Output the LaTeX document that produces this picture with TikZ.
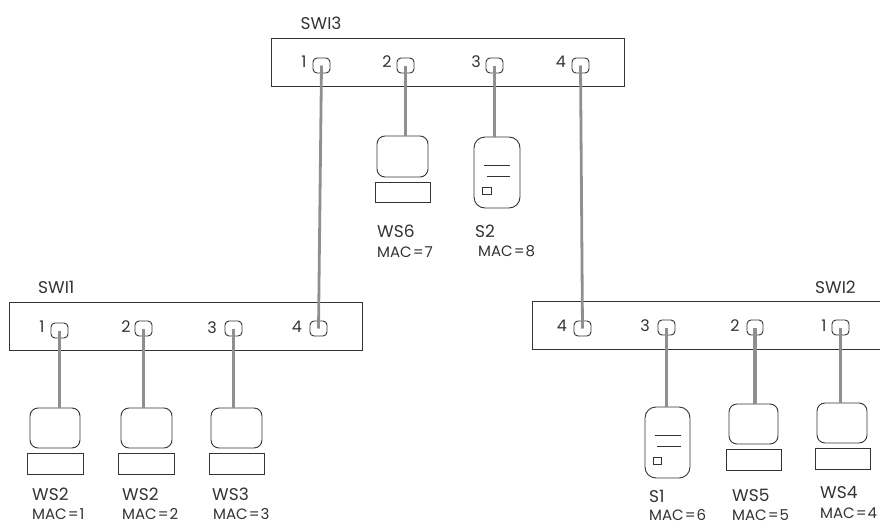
\documentclass[tikz,border=0pt]{standalone}
\usepackage{fontspec}
\setmainfont{Poppins}
\definecolor{ink}{HTML}{333333}
\definecolor{wire}{HTML}{8F8F8F}
\newcommand{\shp}[6]{\node[#1,minimum width={(#5-#3)*1pt},minimum height={(#6-#4)*1pt}] (#2) at ({(#3+#5)/2},{(#4+#6)/2}) {};}
\newcommand{\txt}[5]{\node[#1] (#2) at (#3,#4) {#5};}
\newcommand{\macv}[1]{MAC\kern1pt=\kern1pt#1}
\begin{document}
\begin{tikzpicture}[x=1pt,y=-1pt,
  outline/.style={draw=ink,line width=0.9pt,inner sep=0pt,outer sep=0pt},
  swbox/.style={outline},
  port/.style={outline,rounded corners=4pt},
  monitor/.style={outline,rounded corners=8pt},
  kbd/.style={outline},
  tower/.style={outline,rounded corners=11pt},
  led/.style={outline,line width=0.8pt},
  wirefat/.style={draw=wire,line width=3.8pt},
  wirelink/.style={draw=wire,line width=2.8pt},
  hrule/.style={draw=ink,line width=0.8pt},
  hostlbl/.style={anchor=base west,inner sep=0pt,text=ink,font=\fontsize{17}{18}\selectfont},
  maclbl/.style={anchor=base west,inner sep=0pt,text=ink,font=\fontsize{15}{16}\selectfont},
  numlbl/.style={anchor=center,inner sep=0pt,text=ink,font=\fontsize{16}{16}\selectfont}]
\useasboundingbox (0,0) rectangle (880,522);
\clip (0,0) rectangle (880,522);
% switches
\shp{swbox}{swc}{271.5}{38}{624}{86}
\shp{swbox}{swa}{9.5}{302}{362}{350}
\shp{swbox}{swb}{532}{301}{895}{349}
\txt{hostlbl}{tc}{300.5}{29}{SWI3}
\txt{hostlbl}{ta}{38}{293}{SWI1}
\txt{hostlbl}{tb}{815}{293}{SWI2}
% ports
\shp{port}{c1}{313}{58}{330}{73}
\shp{port}{c2}{397}{58}{414}{73}
\shp{port}{c3}{486}{58}{503}{73}
\shp{port}{c4}{572}{58}{589}{73}
\txt{numlbl}{nc1}{304}{62}{1}
\txt{numlbl}{nc2}{387}{62}{2}
\txt{numlbl}{nc3}{476}{62}{3}
\txt{numlbl}{nc4}{561}{62}{4}
\shp{port}{a1}{51}{323}{68}{338}
\shp{port}{a2}{135}{321}{152}{336}
\shp{port}{a3}{225}{321}{242}{336}
\shp{port}{a4}{310}{321}{327}{336}
\txt{numlbl}{na1}{42}{327}{1}
\txt{numlbl}{na2}{126}{327}{2}
\txt{numlbl}{na3}{212}{328}{3}
\txt{numlbl}{na4}{297}{327}{4}
\shp{port}{b4}{574}{321}{591}{336}
\shp{port}{b3}{658}{320}{675}{335}
\shp{port}{b2}{747}{320}{763}{335}
\shp{port}{b1}{832}{320}{849}{335}
\txt{numlbl}{nb4}{562}{326}{4}
\txt{numlbl}{nb3}{645}{326}{3}
\txt{numlbl}{nb2}{735}{326}{2}
\txt{numlbl}{nb1}{824}{326}{1}
% workstations, top
\shp{monitor}{m6}{377}{136}{428}{177}
\shp{kbd}{k6}{375}{182}{430}{202}
\shp{tower}{s2}{474}{137}{520}{208}
\draw[hrule] (484,165) -- (510,165);
\draw[hrule] (487,176) -- (510,176);
\shp{led}{l2}{482}{187}{491}{194}
\txt{hostlbl}{t6}{377}{237}{WS6}
\txt{maclbl}{q6}{377}{257}{\macv{7}}
\txt{hostlbl}{ts2}{475}{237}{S2}
\txt{maclbl}{q8}{478}{256}{\macv{8}}
% left
\shp{monitor}{m1}{30}{408}{80}{448}
\shp{kbd}{k1}{27}{453}{83}{474}
\shp{monitor}{m2}{121}{408}{172}{448}
\shp{kbd}{k2}{118}{453}{174}{474}
\shp{monitor}{m3}{211}{408}{262}{448}
\shp{kbd}{k3}{209}{453}{264}{474}
\txt{hostlbl}{t1}{32}{500}{WS2}
\txt{hostlbl}{t2}{122}{500}{WS2}
\txt{hostlbl}{t3}{212}{500}{WS3}
\txt{maclbl}{q1}{32}{519.5}{\macv{1}}
\txt{maclbl}{q2}{122}{519.5}{\macv{2}}
\txt{maclbl}{q3}{213}{519.5}{\macv{3}}
% right
\shp{tower}{s1}{645}{407}{690}{478}
\draw[hrule] (655,435) -- (681,435);
\draw[hrule] (657,446) -- (681,446);
\shp{led}{l1}{653}{457}{661}{464}
\shp{monitor}{m5}{729}{404}{778}{444}
\shp{kbd}{k5}{726}{449}{781}{470}
\shp{monitor}{m4}{817}{403}{867}{443}
\shp{kbd}{k4}{815}{448}{870}{469}
\txt{hostlbl}{ts1}{649}{502}{S1}
\txt{hostlbl}{t5}{732}{501}{WS5}
\txt{hostlbl}{t4}{820}{498}{WS4}
\txt{maclbl}{q6b}{649}{520}{\macv{6}}
\txt{maclbl}{q5}{732}{520}{\macv{5}}
\txt{maclbl}{q4}{820}{518}{\macv{4}}
% connectors
\draw[wirelink] (c1.center) -- (a4.center);
\draw[wirelink] (c4.center) -- (b4.center);
\draw[wirefat] (c2.center) -- (c2.center |- m6.north);
\draw[wirefat] (c3.center) -- (c3.center |- s2.north);
\draw[wirefat] (a1.center) -- (a1.center |- m1.north);
\draw[wirefat] (a2.center) -- (a2.center |- m2.north);
\draw[wirefat] (a3.center) -- (a3.center |- m3.north);
\draw[wirefat] (b3.center) -- (b3.center |- s1.north);
\draw[wirefat] (b2.center) -- (b2.center |- m5.north);
\draw[wirefat] (b1.center) -- (b1.center |- m4.north);
\end{tikzpicture}
\end{document}
